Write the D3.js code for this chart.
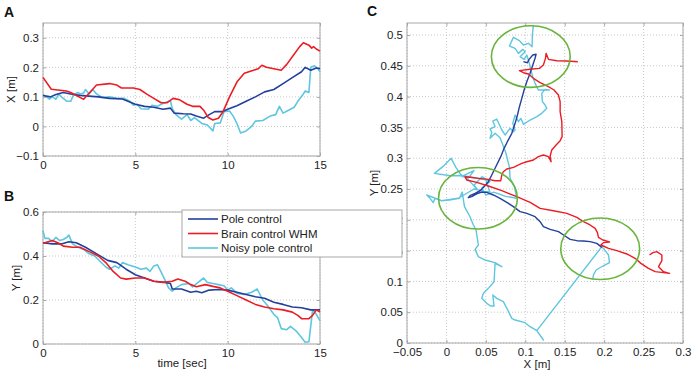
<!DOCTYPE html>
<html>
<head>
<meta charset="utf-8">
<script src="https://cdn.jsdelivr.net/npm/d3@7"></script>
<style>
  body { margin: 0; background: #fff; }
  svg { font-family: "Liberation Sans", Arial, Helvetica, sans-serif; }
</style>
</head>
<body>
<svg id="chart" width="692" height="370"></svg>
<script>
// ---- data ----
var seriesNames = ["Pole control", "Brain control WHM", "Noisy pole control"];
var seriesColors = ["#25409c", "#ec1c24", "#5ec6df"];

// panel A : X [m] over time
var aBlueT = [0,0.4,0.7,1.1,1.5,2,3,3.6,4.3,5,5.5,6,6.5,6.9,7.1,7.6,8,8.3,8.7,9,9.3,9.7,10,10.5,11,11.5,12,12.5,13,13.5,14,14.2,14.5,14.8,15];
var aBlue  = [0.105,0.1,0.108,0.115,0.11,0.105,0.1,0.095,0.093,0.075,0.068,0.065,0.058,0.062,0.045,0.043,0.042,0.035,0.028,0.04,0.05,0.05,0.058,0.07,0.085,0.1,0.117,0.125,0.145,0.165,0.185,0.2,0.19,0.198,0.195];
var aRedT = [0,0.45,1.27,1.5,2.1,2.2,2.9,3.6,4.0,4.25,4.9,5.25,5.6,6.0,6.4,6.7,7.05,7.4,7.8,8.1,8.5,8.7,8.95,9.2,9.5,9.75,10.1,10.5,10.9,11.4,11.65,11.85,12.1,12.5,12.9,13.2,13.55,13.9,14.1,14.4,14.55,14.65,14.8,15];
var aRed  = [0.166,0.126,0.12,0.115,0.095,0.092,0.14,0.145,0.14,0.13,0.13,0.125,0.11,0.095,0.08,0.08,0.095,0.09,0.075,0.068,0.068,0.055,0.03,0.022,0.028,0.05,0.1,0.15,0.18,0.19,0.195,0.207,0.2,0.195,0.19,0.21,0.24,0.27,0.283,0.275,0.265,0.27,0.262,0.255];
var aCyanT = [0,0.2,0.35,0.5,0.7,0.85,1,1.3,1.5,1.65,1.9,2.0,2.2,2.3,2.5,2.7,2.9,3.2,3.6,4.0,4.4,4.7,4.9,5.1,5.3,5.7,5.9,6.2,6.4,6.6,6.9,7.0,7.2,7.5,7.8,8.0,8.2,8.6,8.9,9.2,9.3,9.6,9.8,10.1,10.3,10.5,10.7,11,11.3,11.5,11.9,12.3,12.6,12.8,13,13.3,13.6,13.8,14.1,14.2,14.4,14.5,14.7,14.9,15];
var aCyan  = [0.108,0.1,0.092,0.1,0.092,0.11,0.1,0.085,0.085,0.107,0.115,0.11,0.113,0.125,0.11,0.125,0.11,0.098,0.1,0.095,0.095,0.085,0.072,0.075,0.06,0.058,0.072,0.068,0.075,0.08,0.087,0.06,0.04,0.025,0.04,0.02,0.03,0.01,0.005,-0.015,0.01,0.012,0.05,0.052,0.035,0.01,-0.022,-0.015,0.0,0.018,0.02,0.035,0.04,0.068,0.045,0.055,0.065,0.085,0.11,0.12,0.115,0.2,0.205,0.195,0.185];

// panel B : Y [m] over time
var bBlueT = [0,0.5,1,1.4,1.8,2.3,3,3.5,4,4.5,5,5.5,6,6.6,6.9,7.0,7.5,8,8.3,8.6,9,9.5,10,10.5,11,11.5,12,12.5,13,13.5,14,14.5,15];
var bBlue  = [0.46,0.455,0.455,0.465,0.46,0.44,0.405,0.38,0.37,0.34,0.315,0.3,0.285,0.28,0.275,0.25,0.25,0.235,0.24,0.233,0.245,0.248,0.245,0.235,0.225,0.215,0.208,0.19,0.18,0.168,0.165,0.155,0.155];
var bRedT = [0,0.5,0.8,1.1,1.6,2,2.5,3,3.4,3.8,4.2,4.5,5,5.5,6,6.5,7,7.3,7.7,8,8.3,8.8,9.2,9.6,10,10.5,11,11.5,12,12.5,13,13.5,13.8,14,14.4,14.6,14.8,15];
var bRed  = [0.458,0.47,0.46,0.445,0.44,0.44,0.42,0.4,0.37,0.33,0.3,0.295,0.3,0.3,0.285,0.28,0.285,0.295,0.285,0.27,0.26,0.27,0.262,0.255,0.24,0.22,0.2,0.18,0.168,0.16,0.155,0.145,0.13,0.115,0.115,0.13,0.155,0.145];
var bCyanT = [0,0.1,0.3,0.5,0.7,0.9,1.1,1.3,1.4,1.6,1.9,2.2,2.5,2.8,3.1,3.4,3.6,3.9,4.1,4.3,4.6,5,5.3,5.6,5.8,6,6.2,6.5,6.8,7,7.2,7.5,7.9,8.1,8.4,8.7,8.9,9.2,9.5,9.8,10,10.2,10.5,10.9,11.3,11.6,11.9,12.2,12.5,12.7,12.9,13.2,13.4,13.7,14,14.2,14.4,14.6,14.8,15];
var bCyan  = [0.515,0.48,0.48,0.465,0.485,0.47,0.475,0.485,0.495,0.455,0.44,0.43,0.41,0.4,0.375,0.35,0.34,0.355,0.345,0.37,0.36,0.35,0.34,0.345,0.33,0.355,0.36,0.31,0.255,0.24,0.255,0.27,0.275,0.26,0.28,0.3,0.28,0.275,0.27,0.265,0.245,0.255,0.23,0.225,0.235,0.25,0.2,0.17,0.135,0.12,0.07,0.065,0.08,0.06,0.03,0.008,0.01,0.155,0.135,0.105];

// panel C : trajectories [X, Y]
var cBlue = [[0.0976,0.4567],[0.1027,0.455],[0.1048,0.4605],[0.1095,0.4675],[0.1137,0.4687],[0.112,0.4605],[0.1095,0.4513],[0.1061,0.4378],[0.1019,0.4242],[0.0985,0.4107],[0.0956,0.3972],[0.0926,0.3836],[0.0901,0.3701],[0.0871,0.3566],[0.0829,0.3404],[0.0773,0.3268],[0.0731,0.316],[0.0689,0.3025],[0.0617,0.2836],[0.0575,0.2727],[0.0532,0.2619],[0.0477,0.2537],[0.0426,0.2473],[0.0363,0.243],[0.0299,0.2392],[0.0278,0.2359],[0.0321,0.2376],[0.0384,0.242],[0.0448,0.2451],[0.0511,0.2446],[0.0595,0.2403],[0.068,0.2349],[0.0765,0.2284],[0.0849,0.2213],[0.0934,0.2132],[0.1019,0.2105],[0.1124,0.2051],[0.1188,0.1969],[0.123,0.1888],[0.1315,0.1845],[0.1421,0.1807],[0.1485,0.1753],[0.1569,0.1683],[0.1654,0.1661],[0.1738,0.1656],[0.1822,0.1645],[0.1907,0.1618],[0.1971,0.1553]];
var cRed = [[0.1666,0.4567],[0.1527,0.4578],[0.14,0.4583],[0.1293,0.4605],[0.1264,0.4702],[0.1256,0.4621],[0.123,0.4513],[0.1179,0.4459],[0.1061,0.4443],[0.0926,0.4421],[0.0977,0.4388],[0.104,0.4367],[0.1103,0.4297],[0.1188,0.4226],[0.1293,0.4161],[0.1365,0.4107],[0.142,0.4026],[0.1442,0.3918],[0.1442,0.3755],[0.1463,0.3593],[0.1467,0.335],[0.1442,0.3285],[0.1391,0.3214],[0.1336,0.3133],[0.1315,0.3036],[0.1327,0.2943],[0.1293,0.3025],[0.123,0.3052],[0.1166,0.3025],[0.1103,0.2971],[0.1019,0.2943],[0.0956,0.2917],[0.0914,0.289],[0.0851,0.2852],[0.0765,0.2825],[0.0722,0.2781],[0.0702,0.2727],[0.0689,0.2635],[0.0617,0.2635],[0.0532,0.2656],[0.0405,0.2673],[0.0299,0.269],[0.0236,0.27],[0.0257,0.2646],[0.0384,0.2608],[0.0532,0.2549],[0.0702,0.2473],[0.0892,0.2376],[0.1061,0.2284],[0.1188,0.2186],[0.1357,0.2148],[0.1527,0.2105],[0.1654,0.204],[0.1738,0.1969],[0.1822,0.1916],[0.1886,0.1861],[0.1915,0.1791],[0.1928,0.1716],[0.1983,0.1672],[0.2068,0.164],[0.1991,0.1629],[0.1958,0.1591],[0.2055,0.1537],[0.2161,0.1499],[0.2288,0.1445],[0.2393,0.1375],[0.2466,0.1293],[0.2562,0.1212],[0.2647,0.1158],[0.2753,0.1142],[0.2829,0.1131],[0.2753,0.1158],[0.269,0.1239],[0.2732,0.1337],[0.2732,0.1429],[0.2668,0.1483],[0.2618,0.1467],[0.2575,0.1429]];
var cCyan = [[0.1103,0.5162],[0.109,0.5],[0.1086,0.481],[0.104,0.4865],[0.0977,0.4838],[0.0926,0.4908],[0.0849,0.4962],[0.0799,0.4821],[0.0871,0.4784],[0.0913,0.4702],[0.0968,0.4767],[0.0998,0.473],[0.0934,0.4648],[0.0985,0.4605],[0.1019,0.4675],[0.1052,0.454],[0.107,0.4432],[0.1095,0.4324],[0.1124,0.4215],[0.1166,0.4107],[0.1306,0.4107],[0.1251,0.4118],[0.1209,0.4053],[0.1217,0.3918],[0.1251,0.3864],[0.1273,0.381],
  [0.1209,0.3728],[0.1146,0.3674],[0.1061,0.362],[0.0976,0.355],[0.0943,0.3647],[0.0913,0.3593],[0.0871,0.3701],[0.0841,0.3566],[0.0871,0.3458],[0.0849,0.343],[0.0807,0.3485],[0.0744,0.3377],[0.0702,0.3458],[0.0638,0.3636],[0.0588,0.3604],[0.0617,0.3511],[0.0553,0.3474],[0.0575,0.342],[0.0553,0.3323],[0.0617,0.3404],[0.068,0.3333],
  [0.075,0.31],[0.08,0.285],[0.0807,0.2673],[0.086,0.255],[0.0892,0.2349],
  [0.075,0.238],[0.06,0.245],[0.05,0.24],[0.045,0.252],[0.055,0.262],[0.045,0.27],[0.035,0.256],[0.042,0.245],[0.03,0.262],[0.022,0.272],[0.035,0.28],[0.028,0.268],[0.02,0.27],
  [0.012,0.285],[0.006,0.2998],[-0.003,0.288],[-0.0152,0.2754],
  [0.005,0.2716],[0.02,0.272],[0.05,0.265],[0.055,0.245],[0.035,0.25],[0.015,0.235],
  [-0.006,0.231],[-0.025,0.2403],[-0.0208,0.2349],[-0.0167,0.2278],[-0.0146,0.2349],[-0.0068,0.231],[0.0038,0.232],[0.0165,0.235],[0.02,0.245],
  [0.0229,0.2213],[0.0299,0.205],[0.0341,0.1916],[0.0376,0.1834],[0.0405,0.1591],[0.0363,0.152],[0.0405,0.1401],[0.049,0.1347],[0.0617,0.1304],[0.0702,0.1239],[0.0617,0.1293],[0.0604,0.0995],[0.0532,0.0887],[0.0469,0.0806],[0.0448,0.0725],[0.0511,0.0644],[0.0562,0.06],[0.0604,0.06],[0.0588,0.0779],[0.0638,0.0725],[0.0722,0.0671],[0.0773,0.0547],[0.0829,0.04],[0.0871,0.0373],[0.0998,0.033],[0.1061,0.0265],[0.1146,0.02],[0.123,0.0049],[0.1146,0.02],
  [0.1971,0.1564],[0.2013,0.1499],[0.2055,0.1429],[0.2068,0.1305],[0.1983,0.125],[0.1898,0.1185],[0.1864,0.1104],[0.1856,0.1034]];

// target circles (centre x, centre y, radius)
var targetX = [0.107, 0.04, 0.195];
var targetY = [0.465, 0.235, 0.153];
var targetR = [0.05, 0.05, 0.05];

var timeTicks = [0, 5, 10, 15];
var aYTicks = [-0.1, 0, 0.1, 0.2, 0.3];
var bYTicks = [0, 0.2, 0.4, 0.6];
var cXTicks = [-0.05, 0, 0.05, 0.1, 0.15, 0.2, 0.25, 0.3];
var cYTicks = [0, 0.05, 0.1, 0.15, 0.2, 0.25, 0.3, 0.35, 0.4, 0.45, 0.5];

var svg = d3.select("#chart");
var frameColor = "#a8a8a8";
var gridColor = "#c8c8c8";

function fmt(d) {
  return d === 0 ? "0" : String(d).replace("-", "\u2212");
}

function drawPanel(box, xDomain, yDomain, xTicks, yTicks) {
  var x = d3.scaleLinear().domain(xDomain).range([box.left, box.right]);
  var y = d3.scaleLinear().domain(yDomain).range([box.bottom, box.top]);
  var g = svg.append("g");

  // grid
  g.selectAll(".vg").data(xTicks).enter().append("line")
    .attr("x1", function(d) { return x(d); }).attr("x2", function(d) { return x(d); })
    .attr("y1", box.top).attr("y2", box.bottom)
    .attr("stroke", gridColor).attr("stroke-dasharray", "1,2");
  g.selectAll(".hg").data(yTicks).enter().append("line")
    .attr("y1", function(d) { return y(d); }).attr("y2", function(d) { return y(d); })
    .attr("x1", box.left).attr("x2", box.right)
    .attr("stroke", gridColor).attr("stroke-dasharray", "1,2");

  // axes with inward ticks
  var xa = g.append("g").attr("transform", "translate(0," + box.bottom + ")")
    .call(d3.axisBottom(x).tickValues(xTicks).tickFormat(fmt).tickSizeInner(-3).tickSizeOuter(0).tickPadding(5));
  var ya = g.append("g").attr("transform", "translate(" + box.left + ",0)")
    .call(d3.axisLeft(y).tickValues(yTicks).tickFormat(fmt).tickSizeInner(-3).tickSizeOuter(0).tickPadding(4));
  var xt = g.append("g").attr("transform", "translate(0," + box.top + ")")
    .call(d3.axisTop(x).tickValues(xTicks).tickFormat("").tickSizeInner(-3).tickSizeOuter(0));
  var yr = g.append("g").attr("transform", "translate(" + box.right + ",0)")
    .call(d3.axisRight(y).tickValues(yTicks).tickFormat("").tickSizeInner(-3).tickSizeOuter(0));
  [xa, ya, xt, yr].forEach(function(a) {
    a.select(".domain").remove();
    a.selectAll("line").attr("stroke", frameColor);
    a.selectAll("text").attr("fill", "#222").attr("font-size", "11.5px")
      .attr("font-family", "'Liberation Sans', Arial, sans-serif");
  });

  g.append("rect")
    .attr("x", box.left).attr("y", box.top)
    .attr("width", box.right - box.left).attr("height", box.bottom - box.top)
    .attr("fill", "none").attr("stroke", frameColor).attr("stroke-width", 1);

  return { g: g, x: x, y: y };
}

function timeLine(p, t, v, color) {
  var pts = t.map(function(d, i) { return [d, v[i]]; });
  p.g.append("path")
    .datum(pts)
    .attr("fill", "none")
    .attr("stroke", color)
    .attr("stroke-width", 1.6)
    .attr("stroke-linejoin", "round")
    .attr("d", d3.line().x(function(d) { return p.x(d[0]); }).y(function(d) { return p.y(d[1]); }));
}

// ---- panel A ----
var pA = drawPanel({left: 43, top: 23, right: 320, bottom: 156}, [0, 15], [-0.1, 0.35], timeTicks, aYTicks);
timeLine(pA, aCyanT, aCyan, seriesColors[2]);
timeLine(pA, aBlueT, aBlue, seriesColors[0]);
timeLine(pA, aRedT, aRed, seriesColors[1]);

// ---- panel B ----
var pB = drawPanel({left: 43, top: 212, right: 320, bottom: 344}, [0, 15], [0, 0.6], timeTicks, bYTicks);
timeLine(pB, bCyanT, bCyan, seriesColors[2]);
timeLine(pB, bBlueT, bBlue, seriesColors[0]);
timeLine(pB, bRedT, bRed, seriesColors[1]);

// ---- panel C ----
var pC = drawPanel({left: 407, top: 23, right: 683, bottom: 343}, [-0.05, 0.3], [0, 0.5195], cXTicks, cYTicks);
var trajLine = d3.line().x(function(d) { return pC.x(d[0]); }).y(function(d) { return pC.y(d[1]); });
[[cCyan, 2], [cBlue, 0], [cRed, 1]].forEach(function(s) {
  pC.g.append("path").datum(s[0])
    .attr("fill", "none").attr("stroke", seriesColors[s[1]])
    .attr("stroke-width", 1.4).attr("stroke-linejoin", "round")
    .attr("d", trajLine);
});
pC.g.selectAll(".target").data(targetX).enter().append("ellipse")
  .attr("cx", function(d) { return pC.x(d); })
  .attr("cy", function(d, i) { return pC.y(targetY[i]); })
  .attr("rx", function(d, i) { return pC.x(targetR[i]) - pC.x(0); })
  .attr("ry", function(d, i) { return pC.y(0) - pC.y(targetR[i]); })
  .attr("fill", "none").attr("stroke", "#68b43c").attr("stroke-width", 1.6);

// ---- axis labels ----
function label(txt, x, y, rot) {
  svg.append("text").text(txt)
    .attr("transform", "translate(" + x + "," + y + ")" + (rot ? " rotate(-90)" : ""))
    .attr("text-anchor", "middle").attr("font-size", "11.5px").attr("fill", "#222");
}
label("X [m]", 15, 89.5, true);
label("Y [m]", 20, 278, true);
label("time [sec]", 182, 367, false);
label("Y [m]", 378, 183, true);
label("X [m]", 537, 368, false);

// panel letters
[["A", 4, 17], ["B", 4, 201], ["C", 367, 16]].forEach(function(l) {
  svg.append("text").text(l[0]).attr("x", l[1]).attr("y", l[2])
    .attr("font-size", "14px").attr("font-weight", "bold").attr("fill", "#111");
});

// ---- legend (drawn on top, overlaps panel C labels) ----
var leg = svg.append("g").attr("transform", "translate(182,210)");
leg.append("rect").attr("width", 220).attr("height", 47)
  .attr("fill", "#fff").attr("stroke", frameColor);
leg.selectAll(".item").data(seriesNames).enter().append("g")
  .attr("transform", function(d, i) { return "translate(0," + (9 + i * 14.5) + ")"; })
  .each(function(d, i) {
    var it = d3.select(this);
    it.append("line").attr("x1", 6).attr("x2", 36).attr("y1", 0).attr("y2", 0)
      .attr("stroke", seriesColors[i]).attr("stroke-width", 1.6);
    it.append("text").text(d).attr("x", 39).attr("y", 4)
      .attr("font-size", "11.5px").attr("fill", "#222");
  });
</script>
</body>
</html>
